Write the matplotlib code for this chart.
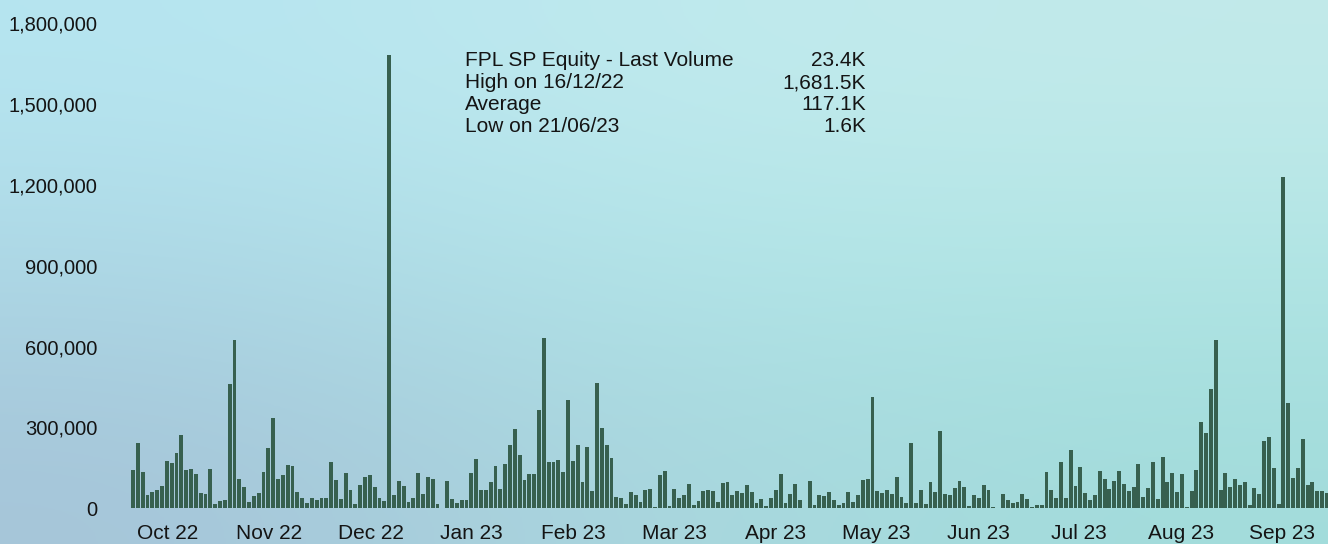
"""
Daily traded volume for FPL SP Equity, Oct 2022 - Sep 2023.
Bars on a soft blue gradient, with a small stats block at the top.
"""

import matplotlib
matplotlib.use("Agg")
import matplotlib.pyplot as plt
import numpy as np

# ---------------------------------------------------------------------------
# Data (volume in thousands of shares, one value per trading day)

VOLUME_K = [
    # Oct - Nov 22
    142, 242, 135, 50, 61, 68, 83, 176, 168, 205, 272, 142, 146, 127, 57, 53,
    146, 16, 27, 31, 461, 625, 109, 79, 24, 46, 57, 135, 224, 335, 109, 124,
    161, 157, 61, 38, 20, 38, 31, 38, 38, 172,
    # Dec 22 - Jan 23
    105, 35, 131, 68, 16, 87, 116, 124, 79, 38, 27, 1681.5, 49, 101, 83, 24,
    38, 131, 53, 116, 109, 16, 2, 101, 35, 20, 31, 31, 131, 183, 68, 68, 98,
    157, 72, 165, 235, 294, 198, 105,
    # Feb - Mar 23
    127, 127, 365, 632, 172, 172, 179, 135, 402, 176, 235, 98, 228, 64, 465,
    298, 235, 187, 42, 38, 16, 61, 49, 24, 68, 72, 5, 124, 139, 9, 72, 38, 49,
    90, 12, 27, 64, 68, 64, 24, 94, 98,
    # Apr - May 23
    49, 64, 57, 87, 61, 20, 35, 9, 38, 68, 127, 20, 53, 90, 31, 1, 101, 12, 49,
    46, 61, 31, 12, 20, 61, 24, 49, 105, 109, 413, 64, 57, 68, 53, 116, 42, 20,
    242, 20, 68, 16,
    # Jun - Jul 23
    98, 61, 287, 53, 49, 75, 101, 79, 9, 49, 38, 87, 68, 5, 1.6, 53, 31, 20, 24,
    53, 35, 5, 12, 12, 135, 68, 38, 172, 38, 217, 83, 153, 57, 31, 49, 139, 109,
    72, 101, 139, 90,
    # Aug - Sep 23
    64, 79, 165, 42, 75, 172, 35, 191, 98, 131, 61, 127, 5, 64, 142, 320, 280,
    443, 625, 68, 131, 79, 109, 87, 98, 12, 75, 53, 250, 265, 150, 16, 1229,
    391, 113, 150, 257, 87, 98, 64, 64, 57,
]

MONTH_LABELS = ["Oct 22", "Nov 22", "Dec 22", "Jan 23", "Feb 23", "Mar 23",
                "Apr 23", "May 23", "Jun 23", "Jul 23", "Aug 23", "Sep 23"]
# label centres, in trading-day index units
MONTH_POS = [7.25, 28.15, 49.25, 70.04, 91.03, 111.93,
             133.03, 153.82, 174.82, 195.71, 216.73, 237.70]

Y_TICKS = [0, 300_000, 600_000, 900_000, 1_200_000, 1_500_000, 1_800_000]

STATS_LABELS = ["FPL SP Equity - Last Volume", "High on 16/12/22",
                "Average", "Low on 21/06/23"]
STATS_VALUES = ["23.4K", "1,681.5K", "117.1K", "1.6K"]

# ---------------------------------------------------------------------------
# Style

FONT = ["Liberation Sans", "DejaVu Sans"]
BAR_COLOR = "#37604f"
TEXT_COLOR = "#141414"

# 3x3 colours of the background wash (top row first)
BG_GRID = np.array([
    [(182, 229, 240), (192, 234, 238), (194, 234, 234)],
    [(172, 215, 229), (177, 229, 232), (176, 229, 228)],
    [(166, 197, 217), (170, 216, 223), (162, 220, 219)],
]) / 255.0

W_PX, H_PX = 1328, 544


def draw():
    plt.rcParams["font.family"] = FONT

    fig = plt.figure(figsize=(W_PX / 100, H_PX / 100), dpi=100)

    # background gradient over the whole canvas
    bg = fig.add_axes([0, 0, 1, 1], zorder=0)
    bg.imshow(BG_GRID, aspect="auto", interpolation="bicubic",
              extent=[0, 1, 0, 1])
    bg.set_axis_off()

    # main axes: left edge at x=131px, baseline at y=508px
    left = 131 / W_PX
    bottom = (H_PX - 508.3) / H_PX
    ax = fig.add_axes([left, bottom, 1 - left, 1 - bottom], zorder=1)
    ax.patch.set_alpha(0)

    volumes = np.array(VOLUME_K) * 1000
    x = np.arange(len(volumes))
    ax.bar(x, volumes, width=0.8, color=BAR_COLOR, linewidth=0)

    px_per_bar = 4.834
    ax.set_xlim(-0.4, -0.4 + (W_PX - 131) / px_per_bar)
    ax.set_ylim(0, 1_886_800)

    for side in ("top", "right", "bottom", "left"):
        ax.spines[side].set_visible(False)

    ax.set_xticks(MONTH_POS)
    ax.set_xticklabels(MONTH_LABELS, fontsize=15, color=TEXT_COLOR)
    ax.tick_params(axis="x", length=0, pad=11)

    ax.set_yticks(Y_TICKS)
    ax.set_yticklabels([f"{v:,}" for v in Y_TICKS], fontsize=14.5,
                       color=TEXT_COLOR)
    ax.tick_params(axis="y", length=0, pad=24)

    # stats block
    row_y = [61, 83, 105, 127]
    for name, value, y in zip(STATS_LABELS, STATS_VALUES, row_y):
        fy = 1 - y / H_PX
        fig.text(465 / W_PX, fy, name, fontsize=15, color=TEXT_COLOR,
                 ha="left", va="center", zorder=2)
        fig.text(866 / W_PX, fy, value, fontsize=15, color=TEXT_COLOR,
                 ha="right", va="center", zorder=2)

    fig.savefig("out.png", dpi=100)
    plt.close(fig)


if __name__ == "__main__":
    draw()
